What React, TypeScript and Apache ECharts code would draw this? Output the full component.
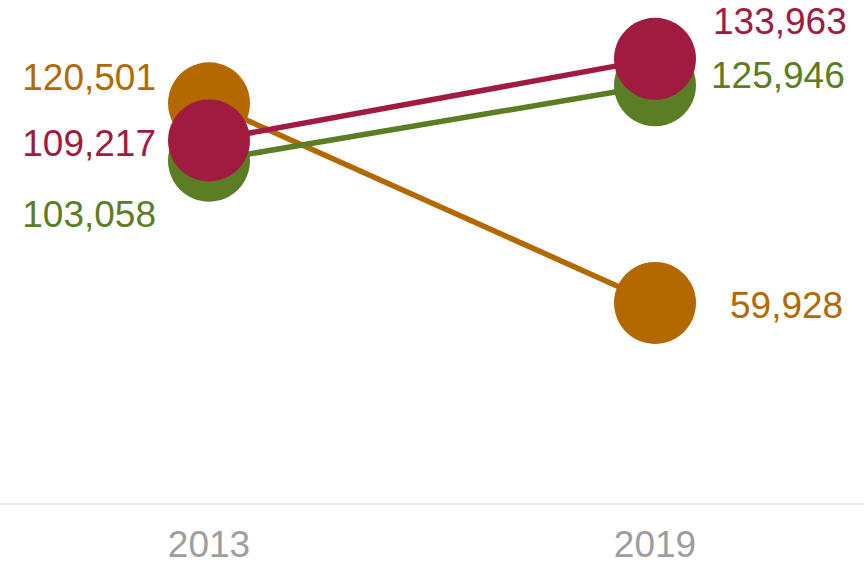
import React, { useEffect, useRef } from "react";
import * as echarts from "echarts";

const years = ["2013", "2019"];
const orangeValues = [120501, 59928];
const greenValues = [103058, 125946];
const crimsonValues = [109217, 133963];

const FONT = "'Liberation Sans', Arial, sans-serif";

function fmt(v: number) {
  return v.toLocaleString("en-US");
}

function makeSeries(
  name: string,
  values: number[],
  color: string,
  offsets: { left: number[]; right: number[] }
) {
  return {
    name,
    type: "line",
    data: values.map((v, i) => ({
      value: v,
      label: {
        position: i === 0 ? "left" : "right",
        offset: i === 0 ? offsets.left : offsets.right,
      },
    })),
    symbol: "circle",
    symbolSize: 82,
    lineStyle: { color, width: 5.5 },
    itemStyle: { color },
    label: {
      show: true,
      distance: 12,
      color,
      fontSize: 37,
      fontFamily: FONT,
      formatter: (p: any) => fmt(p.value),
    },
    emphasis: { disabled: true },
  };
}

export default function App() {
  const ref = useRef<HTMLDivElement>(null);
  useEffect(() => {
    document.body.style.margin = "0";
    if (!ref.current) return;
    const chart = echarts.init(ref.current, undefined, { renderer: "svg" });
    chart.setOption({
      animation: false,
      grid: { left: 209, right: 209, top: 6, bottom: 59 },
      xAxis: {
        type: "category",
        data: years,
        boundaryGap: false,
        axisLine: { show: false },
        axisTick: { show: false },
        axisLabel: {
          color: "#9e9e9e",
          fontSize: 37,
          lineHeight: 28,
          fontFamily: FONT,
          margin: 30,
        },
      },
      yAxis: {
        type: "value",
        min: 0,
        max: 150000,
        show: false,
        splitLine: { show: false },
      },
      graphic: [
        {
          type: "line",
          shape: { x1: 0, y1: 504, x2: 864, y2: 504 },
          style: { stroke: "#e6e6e6", lineWidth: 2 },
          z: 0,
        },
      ],
      series: [
        makeSeries("orange", orangeValues, "#b36800", { left: [0, -26], right: [22, 3] }),
        makeSeries("green", greenValues, "#5b7d23", { left: [0, 54], right: [3, -10] }),
        makeSeries("crimson", crimsonValues, "#a11b40", { left: [0, 3], right: [5, -37] }),
      ],
    });
    return () => chart.dispose();
  }, []);
  return <div ref={ref} style={{ width: 864, height: 563 }} />;
}
